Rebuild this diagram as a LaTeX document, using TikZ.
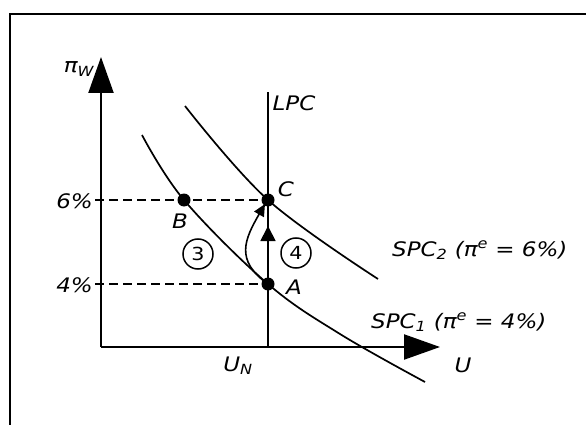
\documentclass[tikz,border=0pt]{standalone}
\usepackage{fontspec}
\setmainfont{DejaVu Sans}[FakeStretch=1.15]
\usetikzlibrary{arrows.meta}
\begin{document}
\begin{tikzpicture}[x=1pt,y=-1pt,
  lbl/.style={font=\fontsize{20}{22}\selectfont\itshape, inner sep=0pt},
  numc/.style={draw, circle, line width=1.5pt, minimum size=30pt, inner sep=0pt, font=\fontsize{18}{20}\selectfont},
  dot/.style={circle, fill=black, inner sep=0pt, minimum size=13pt},
  axis/.style={line width=2.2pt, -{Triangle[length=36pt,width=25pt]}},
  curve/.style={line width=1.7pt},
  dashline/.style={line width=1.6pt, dash pattern=on 9pt off 5pt},
  frameline/.style={line width=2.2pt}]
\useasboundingbox (0,0) rectangle (586,425);
% frame
\coordinate (fbl) at (10,425);
\coordinate (ftl) at (10,14);
\coordinate (ftr) at (586,14);
\draw[frameline] (fbl) -- (ftl) -- (ftr);
% key points
\coordinate (O) at (101,347);
\coordinate (ytip) at (101,57);
\coordinate (xtip) at (440,347);
\coordinate (pA) at (268,284);
\coordinate (pB) at (184,200);
\coordinate (pC) at (268,200);
\coordinate (lpctop) at (268,92);
\coordinate (lpcbot) at (268,347);
\coordinate (t6) at (95,200);
\coordinate (t4) at (95,284);
\coordinate (uptip) at (268,226);
\coordinate (cend) at (265,204);
% curves
\draw[curve] plot[smooth, tension=0.6] coordinates {(142,135) (pB) (pA) (340,334) (425,382)};
\draw[curve] plot[smooth, tension=0.6] coordinates {(185,106) (pC) (378,279)};
% LPC
\draw[line width=1.8pt] (lpcbot) -- (lpctop);
% dashed
\draw[dashline] (t6) -- (pC);
\draw[dashline] (t4) -- (pA);
% axes
\draw[axis] (O) -- (ytip);
\draw[axis] (O) -- (xtip);
% arrows between A and C
\draw[line width=1.8pt, -{Triangle[length=15pt,width=15pt]}] (pA) -- (uptip);
\draw[line width=1.6pt, -{Triangle[length=12pt,width=11pt]}] (pA) to[out=145, in=240, looseness=1.3] (cend);
% dots
\node[dot] (A) at (pA) {};
\node[dot] (B) at (pB) {};
\node[dot] (C) at (pC) {};
% labels
\node[lbl] (piw) at (79,69) {π\textsubscript{W}};
\node[lbl] (lpc) at (294,103) {LPC};
\node[lbl] (lC) at (286,189) {C};
\node[lbl] (lB) at (180,221) {B};
\node[lbl] (lA) at (294,287) {A};
\node[lbl, anchor=east] (p6) at (93,201) {6\%};
\node[lbl, anchor=east] (p4) at (93,285) {4\%};
\node[lbl] (un) at (238,366) {U\textsubscript{N}};
\node[lbl] (u) at (463,365) {U};
\node[lbl, anchor=west] (s2) at (392,250) {SPC\textsubscript{2} (π\textsuperscript{e} = 6\%)};
\node[lbl, anchor=west] (s1) at (371,322) {SPC\textsubscript{1} (π\textsuperscript{e} = 4\%)};
\node[numc] (n3) at (198,254) {3};
\node[numc] (n4) at (296,253) {4};
\end{tikzpicture}
\end{document}
